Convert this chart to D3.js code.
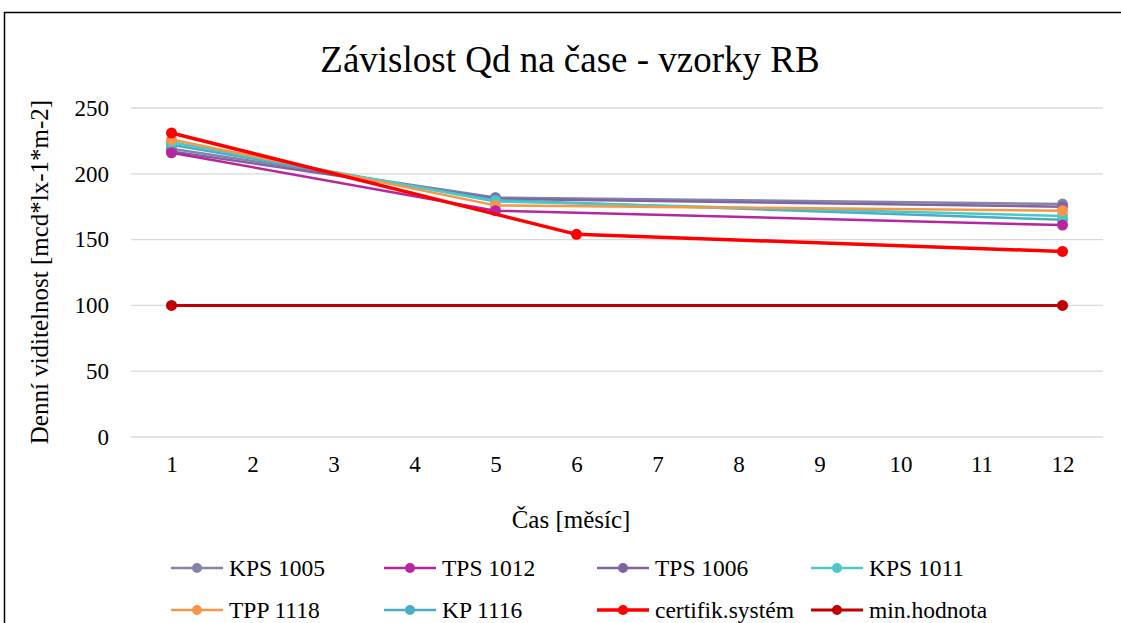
<!DOCTYPE html>
<html>
<head>
<meta charset="utf-8">
<script src="https://cdn.jsdelivr.net/npm/d3@7"></script>
<style>
  html, body { margin: 0; padding: 0; background: #fff; }
  svg { display: block; }
  svg text { font-family: "Liberation Serif", "Times New Roman", serif; fill: #000; }
</style>
</head>
<body>
<svg id="chart" width="1121" height="623"></svg>
<script>
// Months on the category axis
const months = [1, 2, 3, 4, 5, 6, 7, 8, 9, 10, 11, 12];
const yTicks = [0, 50, 100, 150, 200, 250];

// Measured samples (month, value)
const kps1005 = [[1, 219], [5, 182], [12, 177]];
const tps1012 = [[1, 216], [5, 172], [12, 161]];
const tps1006 = [[1, 217], [5, 181], [12, 175]];
const kps1011 = [[1, 224], [5, 179], [12, 168]];
const tpp1118 = [[1, 226], [5, 176], [12, 172]];
const kp1116 = [[1, 222], [5, 180], [12, 165]];
const certifik = [[1, 231], [6, 154], [12, 141]];
const minHodnota = [[1, 100], [12, 100]];

const seriesNames = ["KPS 1005", "TPS 1012", "TPS 1006", "KPS 1011", "TPP 1118", "KP 1116", "certifik.systém", "min.hodnota"];
const seriesData = [kps1005, tps1012, tps1006, kps1011, tpp1118, kp1116, certifik, minHodnota];
const seriesColors = ["#8484a8", "#b8269f", "#8064a2", "#4bc8c8", "#f79646", "#4bacc6", "#ff0000", "#c00000"];
const seriesWidths = [2.5, 2.5, 2.5, 2.5, 2.5, 2.5, 3.5, 3];

const serif = "'Liberation Serif', 'Times New Roman', serif";
const svg = d3.select("#chart");

// outer frame
svg.append("rect")
  .attr("x", 4.5).attr("y", 12.5)
  .attr("width", 1140).attr("height", 640)
  .attr("fill", "#fff").attr("stroke", "#000").attr("stroke-width", 1.5);

const plot = { left: 131, right: 1103, top: 108, bottom: 437 };

const x = d3.scalePoint()
  .domain(months)
  .range([plot.left, plot.right])
  .padding(0.5);

const y = d3.scaleLinear()
  .domain([0, 250])
  .range([plot.bottom, plot.top]);

// horizontal gridlines
svg.append("g")
  .selectAll("line")
  .data(yTicks)
  .join("line")
  .attr("x1", plot.left).attr("x2", plot.right)
  .attr("y1", d => y(d)).attr("y2", d => y(d))
  .attr("stroke", "#d9d9d9").attr("stroke-width", 1.3);

// y axis labels
const yAxis = d3.axisLeft(y).tickValues(yTicks).tickSize(0).tickPadding(22);
svg.append("g")
  .attr("transform", `translate(${plot.left},0)`)
  .call(yAxis)
  .call(g => g.select(".domain").remove())
  .call(g => g.attr("font-family", null).attr("font-size", null))
  .selectAll("text")
  .style("font-family", serif)
  .style("font-size", "23px")
  .attr("fill", "#000");

// x axis labels
const xAxis = d3.axisBottom(x).tickSize(0).tickPadding(19);
svg.append("g")
  .attr("transform", `translate(0,${plot.bottom})`)
  .call(xAxis)
  .call(g => g.select(".domain").remove())
  .call(g => g.attr("font-family", null).attr("font-size", null))
  .selectAll("text")
  .style("font-family", serif)
  .style("font-size", "23px")
  .attr("fill", "#000");

// series lines and markers
const line = d3.line().x(d => x(d[0])).y(d => y(d[1]));
const series = seriesNames.map((name, i) => ({ name, data: seriesData[i], color: seriesColors[i], width: seriesWidths[i] }));
const drawOrder = [0, 2, 5, 3, 4, 1, 7, 6];

drawOrder.forEach(i => {
  const s = series[i];
  const g = svg.append("g");
  g.append("path")
    .attr("d", line(s.data))
    .attr("fill", "none")
    .attr("stroke", s.color)
    .attr("stroke-width", s.width)
    .attr("stroke-linejoin", "round");
  g.selectAll("circle")
    .data(s.data)
    .join("circle")
    .attr("cx", d => x(d[0])).attr("cy", d => y(d[1]))
    .attr("r", 5.5)
    .attr("fill", s.color);
});

// titles
svg.append("text")
  .attr("x", 570).attr("y", 72)
  .attr("text-anchor", "middle")
  .style("font-family", serif)
  .style("font-size", "37px")
  .text("Závislost Qd na čase - vzorky RB");

svg.append("text")
  .attr("x", 571).attr("y", 528)
  .attr("text-anchor", "middle")
  .style("font-family", serif)
  .style("font-size", "25px")
  .text("Čas [měsíc]");

svg.append("text")
  .attr("transform", "translate(48,272) rotate(-90)")
  .attr("text-anchor", "middle")
  .style("font-family", serif)
  .style("font-size", "25px")
  .text("Denní viditelnost [mcd*lx-1*m-2]");

// legend
const legendCols = [171, 384, 597, 811];
const legendRows = [568, 610];
const legend = svg.append("g");
series.forEach((s, i) => {
  const lx = legendCols[i % 4];
  const ly = legendRows[Math.floor(i / 4)];
  const item = legend.append("g").attr("transform", `translate(${lx},${ly})`);
  item.append("line")
    .attr("x1", 0).attr("x2", 52)
    .attr("y1", 0).attr("y2", 0)
    .attr("stroke", s.color)
    .attr("stroke-width", s.width);
  item.append("circle")
    .attr("cx", 26).attr("cy", 0).attr("r", 5)
    .attr("fill", s.color);
  item.append("text")
    .attr("x", 58).attr("y", 0)
    .attr("dy", "0.34em")
    .style("font-family", serif)
    .style("font-size", "23.5px")
    .text(s.name);
});
</script>
</body>
</html>
